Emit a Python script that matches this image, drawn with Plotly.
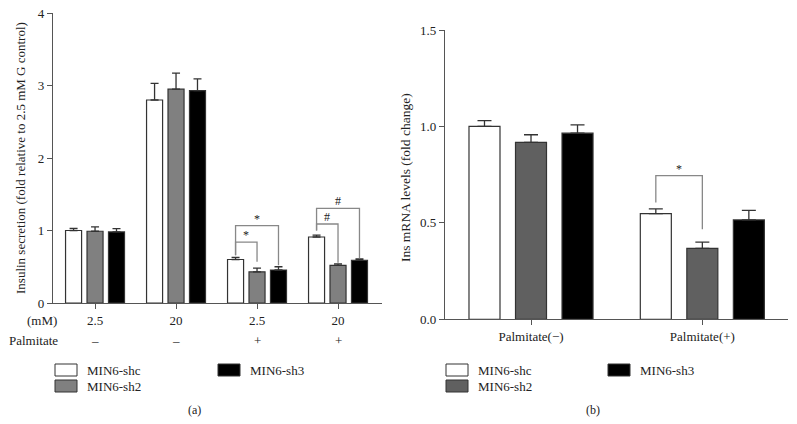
import plotly.graph_objects as go

W, H = 797, 424
OFF = 8  # default page (body) margin of the html page, compensated in layout

# ---------------- data ----------------
series_names = ["MIN6-shc", "MIN6-sh2", "MIN6-sh3"]

# Panel (a): insulin secretion
a_glucose = ["2.5", "20", "2.5", "20"]
a_palmitate = ["–", "–", "+", "+"]
a_shc = [1.00, 2.80, 0.60, 0.91]
a_sh2 = [0.99, 2.95, 0.43, 0.52]
a_sh3 = [0.98, 2.93, 0.455, 0.59]
a_shc_err = [0.03, 0.23, 0.03, 0.025]
a_sh2_err = [0.06, 0.22, 0.05, 0.02]
a_sh3_err = [0.045, 0.16, 0.045, 0.02]

# Panel (b): Ins mRNA levels
b_groups = ["Palmitate(−)", "Palmitate(+)"]
b_shc = [1.00, 0.548]
b_sh2 = [0.917, 0.368]
b_sh3 = [0.965, 0.515]
b_shc_err = [0.03, 0.025]
b_sh2_err = [0.04, 0.032]
b_sh3_err = [0.043, 0.05]

# significance brackets: (group, bar i, bar j, top, bottom i, bottom j, label)
a_brackets = [
    (2, 0, 1, 0.84, 0.66, 0.57, "*"),
    (2, 0, 2, 1.066, 0.66, 0.52, "*"),
    (3, 0, 1, 1.09, 1.00, 0.556, "#"),
    (3, 0, 2, 1.306, 1.00, 0.616, "#"),
]
b_brackets = [
    (1, 0, 1, 0.745, 0.605, 0.467, "*"),
]

# ---------------- style ----------------
FONT = "Liberation Serif"
TXT = "#222222"
AXC = "#555555"
a_colors = ["#ffffff", "#808080", "#000000"]
b_colors = ["#ffffff", "#606060", "#000000"]
A_STEP, A_W = 0.265, 0.198
B_STEP, B_W = 0.2715, 0.181


def px(x):
    return (x - OFF) / W


def py(y):
    return 1 - (y - OFF) / H


fig = go.Figure()

a_vals = [a_shc, a_sh2, a_sh3]
a_errs = [a_shc_err, a_sh2_err, a_sh3_err]
for k in range(3):
    fig.add_trace(go.Bar(
        x=list(range(len(a_glucose))), y=a_vals[k], name=series_names[k],
        width=A_W, offset=(k - 1) * A_STEP - A_W / 2,
        marker=dict(color=a_colors[k], line=dict(color="#333333", width=1.2)),
        error_y=dict(type="data", array=a_errs[k], arrayminus=[0] * len(a_errs[k]),
                     symmetric=False, color="#333333", thickness=1.3, width=4),
        xaxis="x", yaxis="y", showlegend=False))

b_vals = [b_shc, b_sh2, b_sh3]
b_errs = [b_shc_err, b_sh2_err, b_sh3_err]
for k in range(3):
    fig.add_trace(go.Bar(
        x=list(range(len(b_groups))), y=b_vals[k], name=series_names[k],
        width=B_W, offset=(k - 1) * B_STEP - B_W / 2,
        marker=dict(color=b_colors[k], line=dict(color="#333333", width=1.2)),
        error_y=dict(type="data", array=b_errs[k], arrayminus=[0] * len(b_errs[k]),
                     symmetric=False, color="#333333", thickness=1.3, width=7),
        xaxis="x2", yaxis="y2", showlegend=False))

shapes = []
annotations = []


def note(x, y, text, size=13, xref="paper", yref="paper", xanchor="center",
         yanchor="middle", **kw):
    annotations.append(dict(x=x, y=y, xref=xref, yref=yref, text=text, showarrow=False,
                            xanchor=xanchor, yanchor=yanchor,
                            font=dict(family=FONT, size=size, color=TXT), **kw))


def add_brackets(brs, step, xref, yref):
    for g, i, j, top, bi, bj, lab in brs:
        xi = g + (i - 1) * step
        xj = g + (j - 1) * step
        shapes.append(dict(type="path", xref=xref, yref=yref,
                           path=f"M {xi},{bi} L {xi},{top} L {xj},{top} L {xj},{bj}",
                           line=dict(color="#888888", width=1.3)))
        note((xi + xj) / 2, top, lab, size=12, xref=xref, yref=yref,
             yanchor="bottom", yshift=-2)


add_brackets(a_brackets, A_STEP, "x", "y")
add_brackets(b_brackets, B_STEP, "x2", "y2")

# palmitate row under panel (a)
for i, t in enumerate(a_palmitate):
    note(i, py(340), t, xref="x")
note(px(42), py(320), "(mM)")
note(px(33), py(340), "Palmitate")

# panel labels
note(px(194), py(410), "(a)", size=12)
note(px(593), py(410), "(b)", size=12)

# y titles
note(px(20), py(158), "Insulin secretion (fold relative to 2.5 mM G control)",
     size=13, textangle=-90)
note(px(405), py(178), "Ins mRNA levels (fold change)", size=13.5, textangle=-90)


# custom legends
def add_legend(x1, x2, colors):
    pos = [(x1, 364, 376), (x1, 380, 392), (x2, 364, 376)]
    for k in range(3):
        x0, y0, y1 = pos[k]
        shapes.append(dict(type="rect", xref="paper", yref="paper",
                           x0=px(x0), x1=px(x0 + 22), y0=py(y1), y1=py(y0),
                           fillcolor=colors[k], line=dict(color="#333333", width=1)))
        note(px(x0 + 30), py((y0 + y1) / 2), series_names[k], xanchor="left")


add_legend(55, 218, a_colors)
add_legend(446, 608, b_colors)

axis_common = dict(showline=True, linecolor=AXC, linewidth=1.3, ticks="outside",
                   ticklen=5, tickcolor=AXC, tickwidth=1.3, showgrid=False,
                   zeroline=False, automargin=False, ticklabeloverflow="allow",
                   tickfont=dict(family=FONT, size=13, color=TXT))

fig.update_layout(
    width=W, height=H, margin=dict(l=0, r=0, t=0, b=0, autoexpand=False),
    paper_bgcolor="white", plot_bgcolor="white",
    font=dict(family=FONT, color=TXT),
    xaxis=dict(domain=[px(53), px(382)], range=[-0.519, 3.543], anchor="y",
               tickvals=list(range(len(a_glucose))), ticktext=a_glucose, **axis_common),
    yaxis=dict(domain=[py(303), py(13)], range=[0, 4], anchor="x",
               tickvals=[0, 1, 2, 3, 4], ticktext=["0", "1", "2", "3", "4"], **axis_common),
    xaxis2=dict(domain=[px(445), px(788)], range=[-0.502, 1.5], anchor="y2",
                tickvals=list(range(len(b_groups))), ticktext=b_groups, **axis_common),
    yaxis2=dict(domain=[py(319.3), py(30)], range=[0, 1.5], anchor="x2",
                tickvals=[0, 0.5, 1.0, 1.5], ticktext=["0.0", "0.5", "1.0", "1.5"], **axis_common),
    shapes=shapes, annotations=annotations,
)

fig.write_html("out.html")
